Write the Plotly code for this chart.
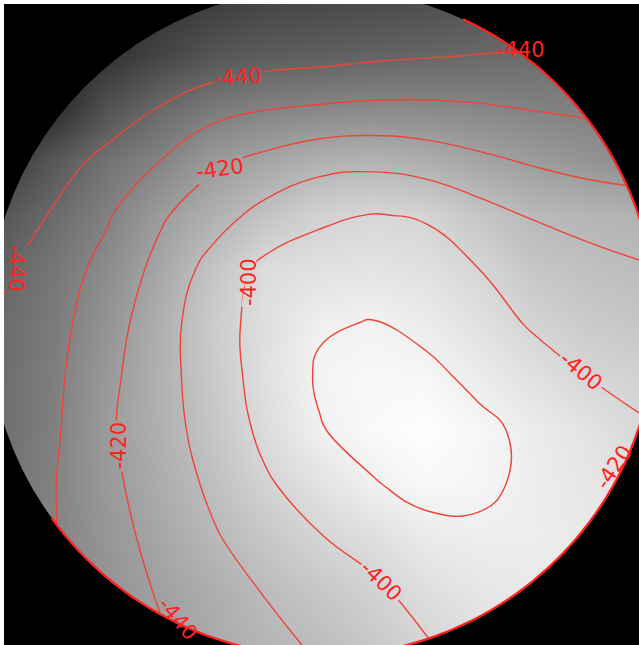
import numpy as np
import plotly.graph_objects as go

# Sample grid (pixel-like units, y grows downward)
x_grid = [0, 53, 107, 160, 213, 266, 320, 373, 426, 479, 533, 586, 639]
y_grid = [0, 54, 108, 161, 215, 269, 323, 376, 430, 484, 538, 591, 645]

# Surface values, one list per grid row
row_00 = [-475, -470, -465, -460, -456, -453, -452, -451, -450, -448, -445, -440, -436]
row_01 = [-470, -466, -460, -453, -447, -444.5, -443.5, -442, -441, -440, -439, -437, -435]
row_02 = [-470, -463, -448, -439.5, -433.5, -430.5, -429, -428, -428, -429, -430.5, -431.5, -433]
row_03 = [-458, -446, -436.3, -430, -421.8, -417.5, -413.5, -412.6, -414.7, -418, -421, -424, -426.5]
row_04 = [-447, -439, -431, -421.3, -414.1, -406.8, -401.4, -399.7, -400.7, -406.2, -410.6, -412, -413]
row_05 = [-442, -435, -427, -417.2, -406.5, -397.5, -396, -395, -396.3, -400, -405.8, -407.9, -409.4]
row_06 = [-439, -433.3, -424.3, -414.3, -403.8, -396.5, -390.8, -389.7, -392.2, -396, -401, -404.2, -406]
row_07 = [-438.5, -432.2, -422.4, -413.6, -404.7, -396.3, -389, -387.5, -388, -392, -396, -400, -401.5]
row_08 = [-438, -431.5, -421.3, -413.9, -406.1, -397.8, -390.4, -387, -385.5, -388, -392, -395, -399.3]
row_09 = [-437.5, -430.5, -422.3, -415.2, -408.3, -401, -395.5, -390.5, -387.5, -388.5, -391.5, -394, -396]
row_10 = [-436, -430.5, -423.4, -417.3, -410.9, -405.6, -400.4, -397, -392.6, -391.4, -391.5, -393, -395]
row_11 = [-436, -430, -424.2, -419.3, -415, -409.5, -405.5, -401.5, -397, -394, -393, -394, -395]
row_12 = [-433, -428, -424, -421, -416, -412, -409, -405, -400.5, -397, -395, -394, -395]

z_rows = [row_00, row_01, row_02, row_03, row_04, row_05, row_06,
          row_07, row_08, row_09, row_10, row_11, row_12]

labelled_levels = [-440, -420, -400]
plain_levels = [-430, -410, -390]

# Labels sitting on contour lines: level, approximate spot, axis searched, text angle
line_label_level = [-440, -440, -420, -420, -400, -400, -400]
line_label_x = [238, 13, 220, 113, 237, 581, 381]
line_label_y = [70, 268, 162, 446, 282, 372, 579]
line_label_axis = ["y", "x", "y", "x", "x", "y", "y"]
line_label_angle = [-4, 90, -8, -90, -90, 40, 44]

# Labels sitting on the rim of the survey area
rim_label_level = [-440, -420, -440]
rim_label_x = [521, 614, 178]
rim_label_y = [50, 467, 619]
rim_label_angle = [0, -56, 50]

# Circular survey boundary
CX, CY, R = 322, 322, 334
Z_MIN, Z_MAX = -478, -385

W, H = 639, 645
LINE_RED = "#ee4438"
LABEL_RED = "#ff2222"
FONT_SIZE = 21
LABEL_FONT = dict(family="DejaVu Sans", size=FONT_SIZE, color=LABEL_RED)

xs = np.array(x_grid, float)
ys = np.array(y_grid, float)
z_arr = np.array(z_rows, float)


def z_at(px, py):
    """Bilinear value of the gridded surface."""
    i = int(np.clip(np.searchsorted(xs, px) - 1, 0, len(xs) - 2))
    j = int(np.clip(np.searchsorted(ys, py) - 1, 0, len(ys) - 2))
    tx = (px - xs[i]) / (xs[i + 1] - xs[i])
    ty = (py - ys[j]) / (ys[j + 1] - ys[j])
    return (z_arr[j, i] * (1 - tx) * (1 - ty) + z_arr[j, i + 1] * tx * (1 - ty)
            + z_arr[j + 1, i] * (1 - tx) * ty + z_arr[j + 1, i + 1] * tx * ty)


def gray(v):
    g = int(round(255 * np.clip((v - Z_MIN) / (Z_MAX - Z_MIN), 0, 1)))
    return f"rgb({g},{g},{g})"


def on_level(level, px, py, axis, reach=45):
    """Slide the spot along one axis until it lies on the contour level."""
    offs = np.linspace(-reach, reach, 361)
    pts = [(px + o, py) if axis == "x" else (px, py + o) for o in offs]
    vals = np.array([z_at(*p) for p in pts]) - level
    best = None
    for k in range(len(vals) - 1):
        if vals[k] == 0 or vals[k] * vals[k + 1] < 0:
            f = vals[k] / (vals[k] - vals[k + 1]) if vals[k] != vals[k + 1] else 0
            o = offs[k] + f * (offs[k + 1] - offs[k])
            if best is None or abs(o) < abs(best):
                best = o
    if best is None:
        return px, py
    return (px + best, py) if axis == "x" else (px, py + best)


def tangent_angle(px, py, prefer):
    h = 2.0
    gx = (z_at(px + h, py) - z_at(px - h, py)) / (2 * h)
    gy = (z_at(px, py + h) - z_at(px, py - h)) / (2 * h)
    a = np.degrees(np.arctan2(-gx, gy))
    while a - prefer > 90:
        a -= 180
    while a - prefer < -90:
        a += 180
    return a


def strip_path(px, py, ang, length, thick=7.0):
    a = np.radians(ang)
    ux, uy = np.cos(a), np.sin(a)
    nx, ny = -uy, ux
    hl, ht = length / 2, thick / 2
    corners = [(px + sx * hl * ux + st * ht * nx, py + sx * hl * uy + st * ht * ny)
               for sx, st in ((-1, -1), (1, -1), (1, 1), (-1, 1))]
    return "M " + " L ".join(f"{cx:.1f},{cy:.1f}" for cx, cy in corners) + " Z"


fig = go.Figure()

fig.add_trace(go.Heatmap(
    x=x_grid, y=y_grid, z=z_rows,
    zsmooth="best", zmin=Z_MIN, zmax=Z_MAX,
    colorscale=[[0, "#000000"], [1, "#ffffff"]],
    showscale=False, hoverinfo="skip",
))

for levels in (labelled_levels, plain_levels):
    fig.add_trace(go.Contour(
        x=x_grid, y=y_grid, z=z_rows,
        autocontour=False,
        contours=dict(coloring="none", showlabels=False,
                      start=min(levels), end=max(levels), size=levels[1] - levels[0]),
        line=dict(color=LINE_RED, width=1.4, smoothing=1.3),
        showscale=False, hoverinfo="skip",
    ))

shapes = []
annotations = []

# Line labels: a level-coloured strip opens a gap in the line under the text
for lev, lx, ly, axis, ang in zip(line_label_level, line_label_x, line_label_y,
                                  line_label_axis, line_label_angle):
    px, py = on_level(lev, lx, ly, axis)
    t_ang = tangent_angle(px, py, ang)
    text = f"{lev:d}"
    length = (0.36 + 0.636 * (len(text) - 1)) * FONT_SIZE + 4
    shapes.append(dict(type="path", path=strip_path(px, py, t_ang, length),
                       xref="x", yref="y", fillcolor=gray(lev),
                       line=dict(width=0), layer="above"))
    annotations.append(dict(x=px, y=py, xref="x", yref="y", text=text, showarrow=False,
                            textangle=ang, font=LABEL_FONT))

for lev, lx, ly, ang in zip(rim_label_level, rim_label_x, rim_label_y, rim_label_angle):
    annotations.append(dict(x=lx, y=ly, xref="x", yref="y", text=f"{lev:d}",
                            showarrow=False, textangle=ang, font=LABEL_FONT))

# Black surround outside the circle (even-odd ring)
theta = np.linspace(0, 2 * np.pi, 97)
ring = " ".join(f"L {CX + R * np.cos(t):.1f},{CY + R * np.sin(t):.1f}" for t in theta[1:])
start = f"M {CX + R:.1f},{CY:.1f}"
mask_path = f"M -60,-60 L {W + 60},-60 L {W + 60},{H + 60} L -60,{H + 60} Z {start} {ring} Z"
shapes.append(dict(type="path", path=mask_path, xref="x", yref="y", fillcolor="black",
                   line=dict(width=0), layer="above", fillrule="evenodd"))

# Red edge where the rim carries contour lines
arc_t = np.radians(np.linspace(-65, 144, 120))
arc_path = "M " + " L ".join(f"{CX + R * np.cos(t):.1f},{CY + R * np.sin(t):.1f}" for t in arc_t)
shapes.append(dict(type="path", path=arc_path, xref="x", yref="y",
                   line=dict(color="#ff2020", width=2.3), layer="above"))

fig.update_layout(
    shapes=shapes,
    annotations=annotations,
    width=W, height=H,
    margin=dict(l=4, t=4, r=0, b=0, pad=0),
    paper_bgcolor="white", plot_bgcolor="black",
    xaxis=dict(range=[4, W], visible=False, showgrid=False, zeroline=False),
    yaxis=dict(range=[H, 4], visible=False, showgrid=False, zeroline=False),
    showlegend=False,
)

fig.write_html("out.html")
